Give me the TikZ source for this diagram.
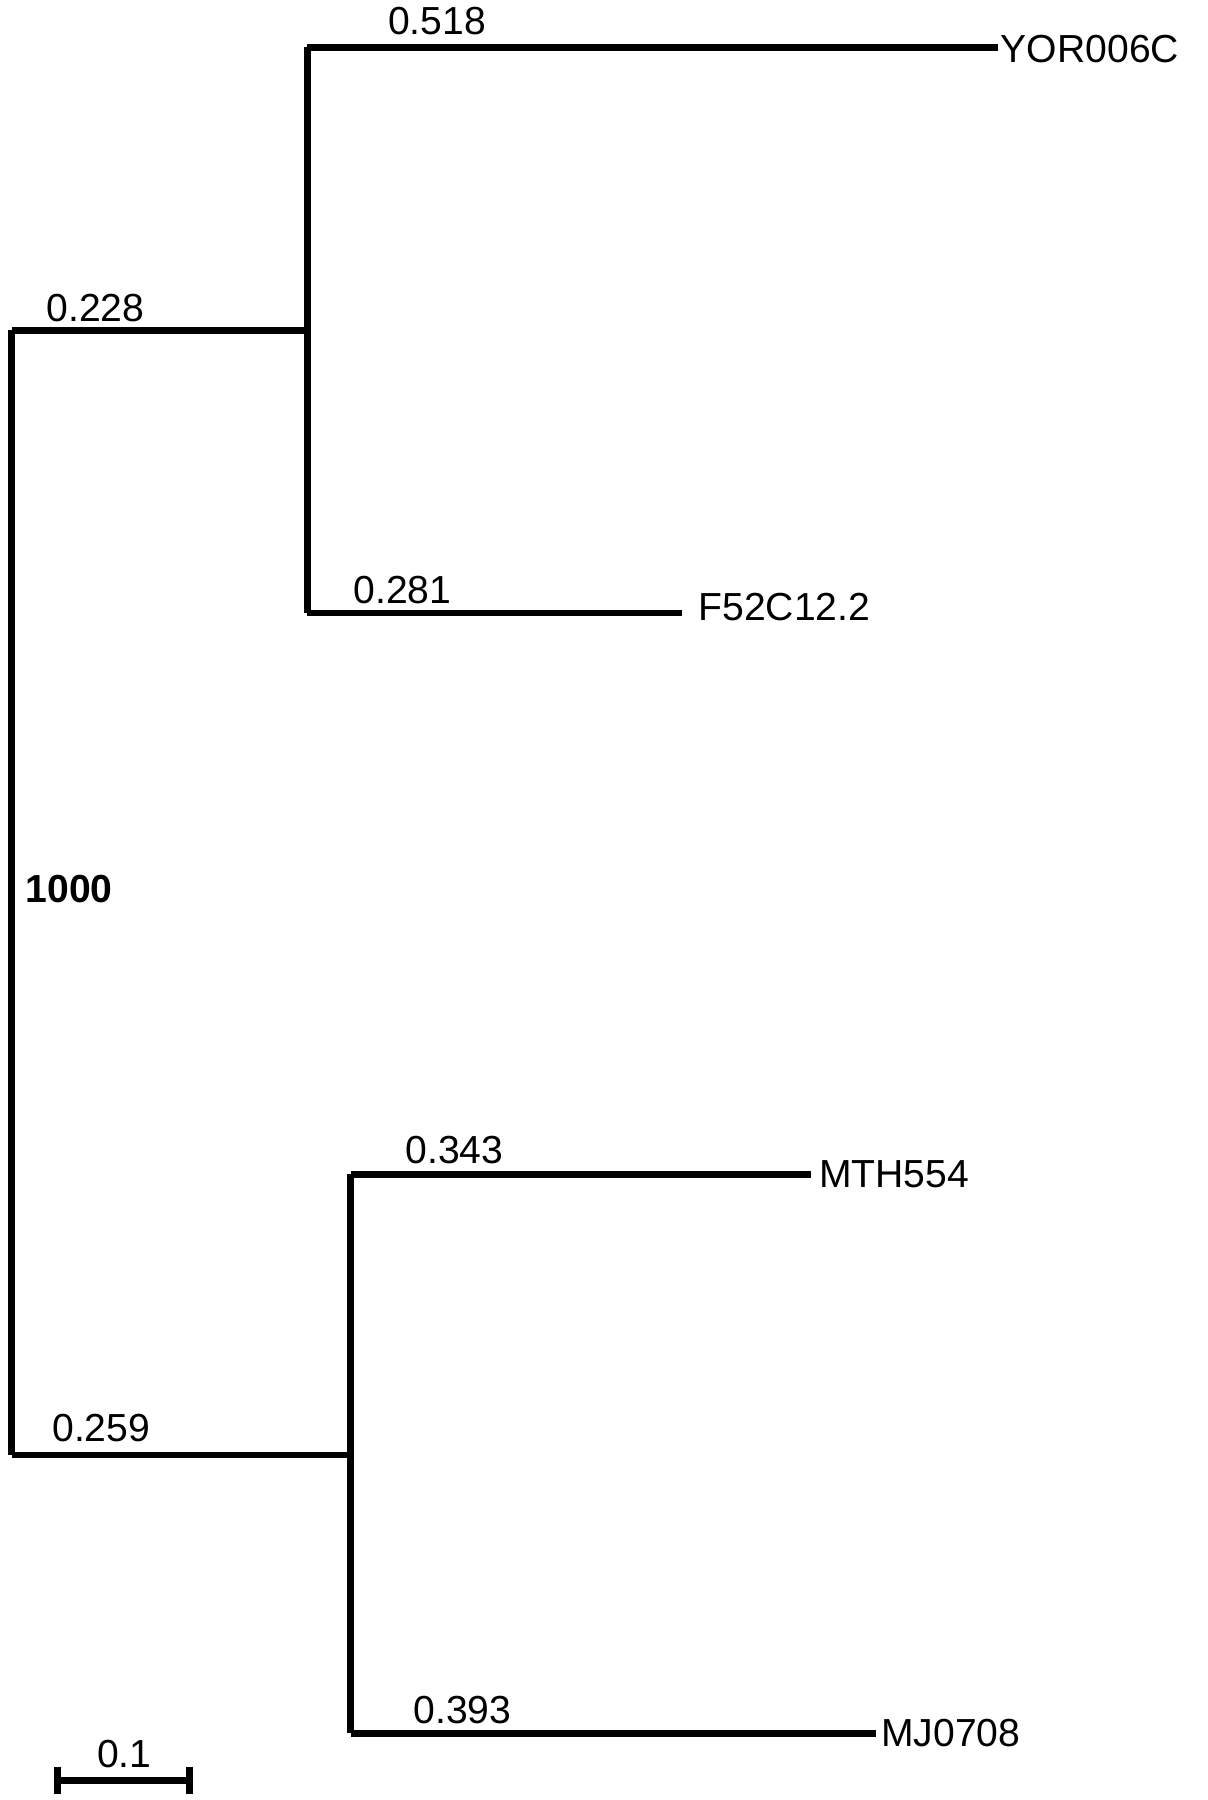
\documentclass[tikz,border=0pt]{standalone}
\usepackage{fontspec}
\setmainfont{Liberation Sans}
\begin{document}
\begin{tikzpicture}[x=1pt,y=-1pt,
  br/.style={line width=6pt,line cap=butt,line join=miter},
  lab/.style={font=\fontsize{34}{40}\selectfont,inner sep=0pt},
  blab/.style={font=\fontsize{34}{40}\selectfont\bfseries,inner sep=0pt,anchor=west}]
\useasboundingbox (0,0) rectangle (1050,1565);
\coordinate (r1) at (10,287);
\coordinate (r2) at (10,1265);
\coordinate (a) at (267,287);
\coordinate (a1) at (267,41);
\coordinate (a2) at (270,533);
\coordinate (b) at (305,1265);
\coordinate (b1) at (305,1021);
\coordinate (b2) at (305,1507);
\node[lab,anchor=west] (yor) at (870,43) {YOR006C};
\node[lab,anchor=west] (f52) at (607,528) {F52C12.2};
\node[lab,anchor=west] (mth) at (712,1021) {MTH554};
\node[lab,anchor=west] (mj) at (766,1507) {MJ0708};
\draw[br] (r1) -- (r2);
\draw[br] (r1) -- (a);
\draw[br] (r2) -- (b);
\draw[br] (a1) -- (a1 |- a2);
\draw[br] (a1) -- (868,41);
\draw[br] (267,533) -- (593,533);
\draw[br] (b1) -- (b2);
\draw[br] (b1) -- (705,1021);
\draw[br] (b2) -- (762,1507);
\node[lab] (l1) at (380,18) {0.518};
\node[lab] (l2) at (83,268) {0.228};
\node[lab] (l3) at (350,513) {0.281};
\node[blab] (l4) at (22,773) {1000};
\node[lab] (l5) at (395,1000) {0.343};
\node[lab] (l6) at (88,1242) {0.259};
\node[lab] (l7) at (402,1487) {0.393};
\coordinate (s1) at (50,1548);
\coordinate (s2) at (165,1548);
\draw[br] (s1) -- (s2);
\draw[br] (50,1536) -- (50,1560);
\draw[br] (165,1536) -- (165,1560);
\node[lab] (sl) at (108,1525) {0.1};
\end{tikzpicture}
\end{document}
